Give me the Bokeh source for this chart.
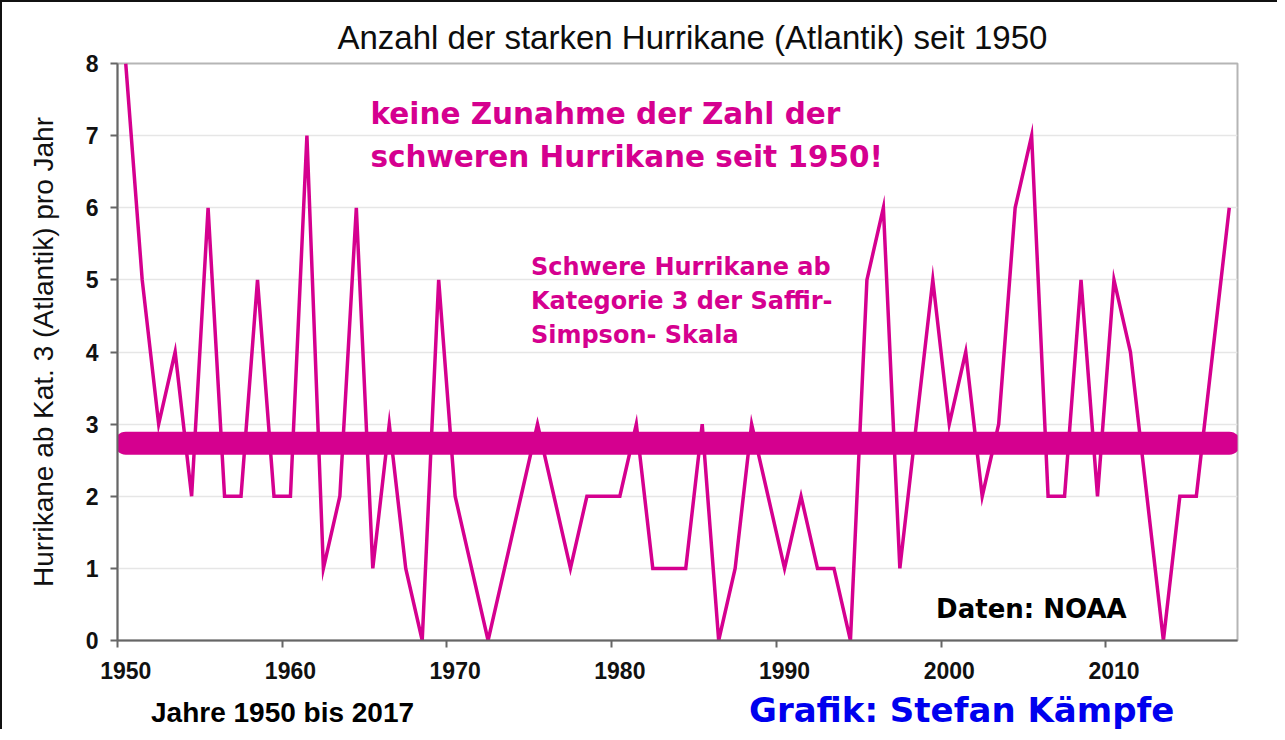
import numpy as np
from bokeh.plotting import figure
from bokeh.layouts import column
from bokeh.models import Range1d, FixedTicker, Label, ColumnDataSource, Div
from bokeh.embed import file_html
from bokeh.resources import INLINE

# ---- data ----
years = list(range(1950, 2018))
major_hurricanes = [8, 5, 3, 4, 2, 6, 2, 2, 5, 2,
                    2, 7, 1, 2, 6, 1, 3, 1, 0, 5,
                    2, 1, 0, 1, 2, 3, 2, 1, 2, 2,
                    2, 3, 1, 1, 1, 3, 0, 1, 3, 2,
                    1, 2, 1, 1, 0, 5, 6, 1, 3, 5,
                    3, 4, 2, 3, 6, 7, 2, 2, 5, 2,
                    5, 4, 2, 0, 2, 2, 4, 6]
decade_ticks = [1950, 1960, 1970, 1980, 1990, 2000, 2010]
y_ticks = [0, 1, 2, 3, 4, 5, 6, 7, 8]

title_text = "Anzahl der starken Hurrikane (Atlantik) seit 1950"
y_label = "Hurrikane ab Kat. 3 (Atlantik) pro Jahr"
note_main = ["keine Zunahme der Zahl der", "schweren Hurrikane seit 1950!"]
note_def = ["Schwere Hurrikane ab", "Kategorie 3 der Saffir-", "Simpson- Skala"]
note_src = "Daten: NOAA"
footer_left = "Jahre 1950 bis 2017"
footer_right = "Grafik: Stefan Kämpfe"

MAG = "#D5008F"
W = 1275

# category-centred positions (each year drawn in the middle of its slot)
xs = [y + 0.5 for y in years]
mean_val = float(np.mean(major_hurricanes))

p = figure(width=W, height=685, output_backend="svg", toolbar_location=None,
           x_range=Range1d(1950, 2018), y_range=Range1d(0, 8),
           min_border_left=115, min_border_right=40, min_border_top=61, min_border_bottom=47)

p.background_fill_color = "white"
p.border_fill_color = "white"
p.outline_line_color = "#b5b5b5"
p.outline_line_width = 2

# title
p.title.text = title_text
p.title.align = "left"
p.title.offset = 220
p.title.text_font = "Liberation Sans"
p.title.text_font_size = "33px"
p.title.text_font_style = "normal"
p.title.text_color = "#0d0d0d"
p.title.standoff = 15

# grid
p.xgrid.grid_line_color = None
p.ygrid.grid_line_color = "#e6e6e6"
p.ygrid.grid_line_width = 1.5
p.ygrid.ticker = FixedTicker(ticks=y_ticks)

# y axis
p.yaxis.ticker = FixedTicker(ticks=y_ticks)
p.yaxis.axis_line_color = "#666666"
p.yaxis.axis_line_width = 2
p.yaxis.major_tick_line_color = "#666666"
p.yaxis.major_tick_line_width = 2
p.yaxis.major_tick_out = 7
p.yaxis.major_tick_in = 0
p.yaxis.minor_tick_line_color = None
p.yaxis.major_label_text_font = "Liberation Sans"
p.yaxis.major_label_text_font_size = "23px"
p.yaxis.major_label_text_font_style = "bold"
p.yaxis.major_label_text_color = "#111111"
p.yaxis.major_label_standoff = 12
p.yaxis.axis_label = y_label
p.yaxis.axis_label_text_font = "Liberation Sans"
p.yaxis.axis_label_text_font_size = "28px"
p.yaxis.axis_label_text_font_style = "normal"
p.yaxis.axis_label_text_color = "#111111"
p.yaxis.axis_label_standoff = 24

# x axis: labels centred on the year slot, tick marks at slot edges
label_pos = [d + 0.5 for d in decade_ticks]
p.xaxis.ticker = FixedTicker(ticks=label_pos, minor_ticks=decade_ticks)
p.xaxis.major_label_overrides = {lp: str(d) for lp, d in zip(label_pos, decade_ticks)}
p.xaxis.axis_line_color = "#666666"
p.xaxis.axis_line_width = 2
p.xaxis.major_tick_line_color = None
p.xaxis.minor_tick_line_color = "#666666"
p.xaxis.minor_tick_line_width = 2
p.xaxis.minor_tick_out = 7
p.xaxis.minor_tick_in = 0
p.xaxis.major_label_text_font = "Liberation Sans"
p.xaxis.major_label_text_font_size = "23px"
p.xaxis.major_label_text_font_style = "bold"
p.xaxis.major_label_text_color = "#111111"
p.xaxis.major_label_standoff = 14

# data line
src = ColumnDataSource(dict(x=xs, y=major_hurricanes))
p.line("x", "y", source=src, line_color=MAG, line_width=3.5, line_join="miter")

# mean line (thick)
p.line([xs[0], xs[-1]], [mean_val, mean_val], line_color=MAG, line_width=23, line_cap="round")

# annotations
def lab(fig, x, y, text, size, color, font="DejaVu Sans", style="bold"):
    fig.add_layout(Label(x=x, y=y, text=text, text_font=font, text_font_size=size,
                         text_font_style=style, text_color=color, text_baseline="alphabetic",
                         text_align="left"))

lab(p, 1965.36, 7.30, note_main[0], "29.5px", MAG)
lab(p, 1965.36, 6.70, note_main[1], "29.5px", MAG)

lab(p, 1975.1, 5.18, note_def[0], "24px", MAG)
lab(p, 1975.1, 4.71, note_def[1], "24px", MAG)
lab(p, 1975.1, 4.24, note_def[2], "24px", MAG)

lab(p, 1999.7, 0.43, note_src, "26px", "#000000")

# footer strip with the two bottom captions
footer_html = (
    '<div style="position:relative;width:%dpx;height:42px;white-space:nowrap;">'
    '<span style="position:absolute;left:149px;top:10px;line-height:28px;'
    'font:bold 28px \'Liberation Sans\';color:#000;">%s</span>'
    '<span style="position:absolute;left:747px;top:3px;line-height:34px;'
    'font:bold 34px \'DejaVu Sans\';color:#0000EE;">%s</span>'
    '</div>' % (W, footer_left, footer_right)
)
foot = Div(text=footer_html, width=W, height=42, margin=(0, 0, 0, 0))

layout = column(p, foot, spacing=0,
                styles={"border-top": "2px solid #111", "border-left": "2px solid #111"})

open("out.html", "w").write(file_html(layout, INLINE))
